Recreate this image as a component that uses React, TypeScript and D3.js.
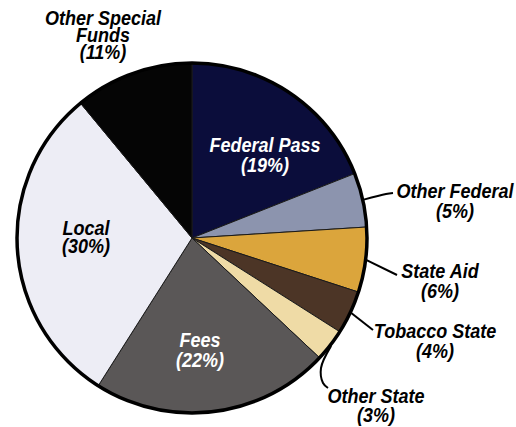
import React from 'react';
import * as d3 from 'd3';

// Revenue sources, clockwise from 12 o'clock
const categories = [
  'Federal Pass',
  'Other Federal',
  'State Aid',
  'Tobacco State',
  'Other State',
  'Fees',
  'Local',
  'Other Special Funds',
];
const shares = [19, 5, 6, 4, 3, 22, 30, 11];
const sliceColors = [
  '#0b0d3b',
  '#8c94ae',
  '#dba53c',
  '#4c3526',
  '#efdba6',
  '#5a5757',
  '#ededf5',
  '#050505',
];

// label placement (text lines, anchor, line gap, colour, optional leader points)
type LabelLayout = {
  lines: string[];
  x: number;
  y: number;
  gap: number;
  color: string;
  leader?: [number, number][];
};
const labelLayout: Record<string, LabelLayout> = {
  'Federal Pass': { lines: ['Federal Pass'], x: 265, y: 152, gap: 20, color: '#fff' },
  'Other Federal': {
    lines: ['Other Federal'], x: 455, y: 198, gap: 20, color: '#000',
    leader: [[386, 194], [393, 193]],
  },
  'State Aid': {
    lines: ['State Aid'], x: 440, y: 278, gap: 20, color: '#000',
    leader: [[397, 275]],
  },
  'Tobacco State': {
    lines: ['Tobacco State'], x: 435, y: 338, gap: 20, color: '#000',
    leader: [[373, 330]],
  },
  'Other State': {
    lines: ['Other State'], x: 376, y: 403, gap: 19, color: '#000',
    leader: [[321, 368], [323, 383], [328, 388]],
  },
  Fees: { lines: ['Fees'], x: 200, y: 347, gap: 20, color: '#fff' },
  Local: { lines: ['Local'], x: 86, y: 235, gap: 18, color: '#000' },
  'Other Special Funds': {
    lines: ['Other Special', 'Funds'], x: 103, y: 25, gap: 17, color: '#000',
  },
};

const width = 516;
const height = 427;
const cx = 192;
const cy = 238;
const radius = 175;

const App: React.FC = () => {
  const data = categories.map((name, i) => ({ name, value: shares[i], color: sliceColors[i] }));
  const pie = d3.pie<typeof data[number]>().value(d => d.value).sort(null);
  const arcs = pie(data);
  const arc = d3.arc<d3.PieArcDatum<typeof data[number]>>().innerRadius(0).outerRadius(radius);
  const leaderLine = d3.line().curve(d3.curveCatmullRom);

  return (
    <svg
      width={width}
      height={height}
      style={{ position: 'absolute', left: 0, top: 0, background: '#fff' }}
      fontFamily="'Liberation Sans', Arial, sans-serif"
    >
      <g transform={`translate(${cx},${cy})`}>
        {arcs.map(a => (
          <path key={a.data.name} d={arc(a) || ''} fill={a.data.color} stroke="#1a1a1a" strokeWidth={1} />
        ))}
        <circle r={radius} fill="none" stroke="#000" strokeWidth={3.5} />
      </g>
      {arcs.map(a => {
        const lay = labelLayout[a.data.name];
        if (!lay || !lay.leader) return null;
        const mid = (a.startAngle + a.endAngle) / 2;
        const start: [number, number] = [
          cx + (radius + 1) * Math.sin(mid),
          cy - (radius + 1) * Math.cos(mid),
        ];
        return (
          <path
            key={'l-' + a.data.name}
            d={leaderLine([start, ...lay.leader]) || ''}
            fill="none"
            stroke="#000"
            strokeWidth={2}
          />
        );
      })}
      {arcs.map(a => {
        const lay = labelLayout[a.data.name];
        const lines = [...lay.lines, `(${a.data.value}%)`];
        return (
          <text
            key={'t-' + a.data.name}
            transform={`translate(${lay.x},${lay.y}) scale(0.9,1)`}
            textAnchor="middle"
            fill={lay.color}
            fontSize={20}
            fontWeight="bold"
            fontStyle="italic"
          >
            {lines.map((t, i) => (
              <tspan key={i} x={0} dy={i === 0 ? 0 : lay.gap}>
                {t}
              </tspan>
            ))}
          </text>
        );
      })}
    </svg>
  );
};

export default App;
